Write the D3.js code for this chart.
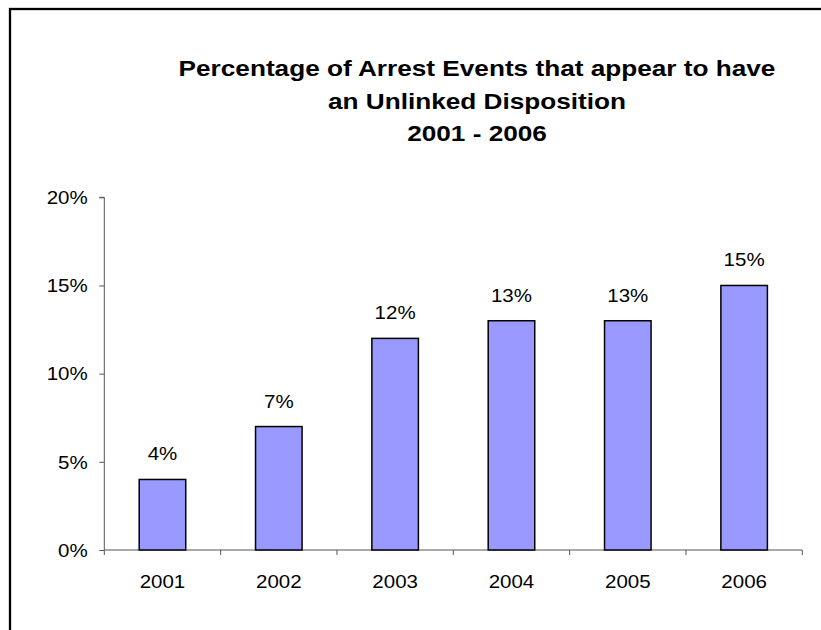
<!DOCTYPE html>
<html>
<head>
<meta charset="utf-8">
<script src="https://cdn.jsdelivr.net/npm/d3@7"></script>
<style>
  html, body { margin: 0; padding: 0; background: #fff; }
  svg { display: block; }
  text { font-family: "Liberation Sans", Arial, sans-serif; fill: #000; }
</style>
</head>
<body>
<svg id="chart" width="821" height="630"></svg>
<script>
const years = ["2001", "2002", "2003", "2004", "2005", "2006"];
const values = [0.04, 0.07, 0.12, 0.13, 0.13, 0.15];
const valueLabels = ["4%", "7%", "12%", "13%", "13%", "15%"];
const yTickValues = [0, 0.05, 0.10, 0.15, 0.20];
const yTickLabels = ["0%", "5%", "10%", "15%", "20%"];
const titleLines = ["Percentage of Arrest Events that appear to have", "an Unlinked Disposition", "2001 - 2006"];

const svg = d3.select("#chart");

// outer border (left and top visible)
svg.append("rect")
  .attr("x", 10).attr("y", 9)
  .attr("width", 900).attr("height", 700)
  .attr("fill", "none").attr("stroke", "#000").attr("stroke-width", 2.3);

const x = d3.scaleBand().domain(years).range([104.3, 802.3]).paddingInner(0.6).paddingOuter(0.3);
const y = d3.scaleLinear().domain([0, 0.20]).range([550, 197.3]);

const sxLabel = 1.08;
const sxTitle = 1.19;
const labelSize = 19;

// title
const tcx = 477;
const tBase = [75.7, 108.5, 141.2];
titleLines.forEach((t, i) => {
  svg.append("text")
    .attr("transform", `translate(${tcx},${tBase[i]}) scale(${sxTitle},1)`)
    .attr("text-anchor", "middle")
    .attr("font-size", 22)
    .attr("font-weight", "bold")
    .text(t);
});

// y axis
const yAxis = d3.axisLeft(y).tickValues(yTickValues).tickSize(5).tickFormat("");
const gy = svg.append("g").attr("transform", "translate(104.3,0)").call(yAxis);
gy.select(".domain").attr("stroke", "#555").attr("d", `M-5,${y(0.20)}H0V${y(0)}`);
gy.selectAll(".tick line").attr("stroke", "#555");
yTickValues.forEach((v, i) => {
  svg.append("text")
    .attr("transform", `translate(87.7,${y(v) + 6.8}) scale(${sxLabel},1)`)
    .attr("text-anchor", "end")
    .attr("font-size", labelSize)
    .text(yTickLabels[i]);
});

// x axis
const xAxis = d3.axisBottom(x).tickSize(0).tickFormat("");
const gx = svg.append("g").attr("transform", `translate(0,${y(0)})`).call(xAxis);
gx.select(".domain").attr("stroke", "#555").attr("d", `M${x.range()[0]},0H${x.range()[1]}`);
const step = x.step();
const boundaries = years.map(d => x(d) - (step - x.bandwidth()) / 2).concat([x.range()[1]]);
svg.append("g").selectAll("line").data(boundaries).join("line")
  .attr("x1", d => d).attr("x2", d => d)
  .attr("y1", y(0)).attr("y2", y(0) + 5)
  .attr("stroke", "#555");
years.forEach(d => {
  svg.append("text")
    .attr("transform", `translate(${x(d) + x.bandwidth() / 2},588.3) scale(${sxLabel},1)`)
    .attr("text-anchor", "middle")
    .attr("font-size", labelSize)
    .text(d);
});

// bars
svg.append("g").selectAll("rect").data(years).join("rect")
  .attr("x", d => x(d))
  .attr("y", (d, i) => y(values[i]))
  .attr("width", x.bandwidth())
  .attr("height", (d, i) => y(0) - y(values[i]))
  .attr("fill", "#9999FF")
  .attr("stroke", "#000")
  .attr("stroke-width", 1.5);

// value labels
years.forEach((d, i) => {
  svg.append("text")
    .attr("transform", `translate(${x(d) + x.bandwidth() / 2},${y(values[i]) - 19}) scale(${sxLabel},1)`)
    .attr("text-anchor", "middle")
    .attr("font-size", labelSize)
    .text(valueLabels[i]);
});
</script>
</body>
</html>
